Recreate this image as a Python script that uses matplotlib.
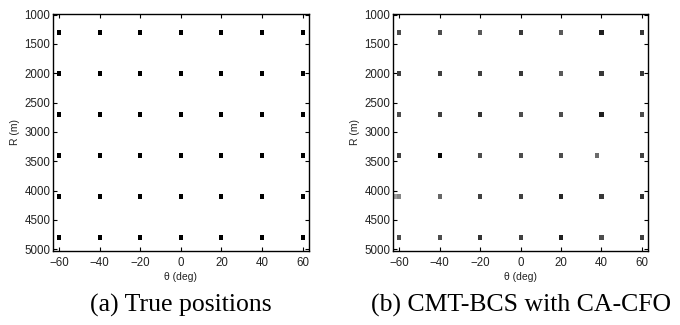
import numpy as np
import matplotlib
matplotlib.use('Agg')
import matplotlib.pyplot as plt

# grid of target positions
theta_deg = [-60, -40, -20, 0, 20, 40, 60]
range_m = [1300, 2000, 2700, 3400, 4100, 4800]

# estimated grey level (0 = black, 1 = white) of each recovered cell, rows follow range_m
est_grey = [
    [0.30, 0.30, 0.35, 0.22, 0.35, 0.12, 0.22],
    [0.25, 0.25, 0.25, 0.22, 0.35, 0.22, 0.22],
    [0.30, 0.25, 0.20, 0.30, 0.30, 0.12, 0.30],
    [0.25, 0.02, 0.30, 0.30, 0.30, 0.42, 0.25],
    [0.52, 0.40, 0.25, 0.25, 0.15, 0.22, 0.20],
    [0.30, 0.30, 0.20, 0.25, 0.12, 0.30, 0.25],
]
# recovered angle where it differs from the true one (row, col) -> theta
est_theta_shift = {(3, 5): 38}
# extra spurious cell next to a target
extra_theta = [-62]
extra_range = [4100]
extra_grey = [0.62]

xticks = [-60, -40, -20, 0, 20, 40, 60]
yticks = [1000, 1500, 2000, 2500, 3000, 3500, 4000, 4500, 5000]
captions = ['(a) True positions', '(b) CMT-BCS with CA-CFO']

plt.rcParams['font.family'] = ['Liberation Sans', 'DejaVu Sans']

fig = plt.figure(figsize=(6.8, 3.25), dpi=100)
ax_a = fig.add_axes([0.078, 0.228, 0.376, 0.729])
ax_b = fig.add_axes([0.578, 0.228, 0.375, 0.729])

cell_w = 2.0
cell_h = 85


def draw_cells(ax, th, rr, greys):
    rr = np.asarray(rr, dtype=float)
    ax.bar(th, cell_h, bottom=rr - cell_h / 2, width=cell_w,
           color=[str(g) for g in greys], linewidth=0, antialiased=False, zorder=2)


# (a) true positions
th_all = [t for r in range_m for t in theta_deg]
r_all = [r for r in range_m for t in theta_deg]
draw_cells(ax_a, th_all, r_all, [0.0] * len(th_all))

# (b) estimate
th_b, r_b, g_b = [], [], []
for i, r in enumerate(range_m):
    for j, t in enumerate(theta_deg):
        th_b.append(est_theta_shift.get((i, j), t))
        r_b.append(r)
        g_b.append(est_grey[i][j])
th_b += extra_theta
r_b += extra_range
g_b += extra_grey
draw_cells(ax_b, th_b, r_b, g_b)

for ax, cap in zip([ax_a, ax_b], captions):
    ax.set_xlim(-63, 63)
    ax.set_ylim(5030, 988)
    ax.set_xticks(xticks)
    ax.set_xticklabels(['\u2212%d' % -v if v < 0 else str(v) for v in xticks])
    ax.set_yticks(yticks)
    ax.tick_params(direction='in', length=3, width=0.8, top=True, right=True,
                   labelsize=8.3, colors='black', labelcolor='#222222')
    ax.tick_params(axis='x', pad=4.5)
    ax.tick_params(axis='y', pad=2)
    for sp in ax.spines.values():
        sp.set_linewidth(1.0)
    ax.set_xlabel('\u03b8 (deg)', fontsize=7.5, labelpad=2, color='#222222')
    ax.set_ylabel('R (m)', fontsize=7.5, labelpad=3, color='#222222')
    ax.text(0.5, -0.257, cap, transform=ax.transAxes, ha='center', va='baseline',
            fontsize=18.5, family=['Liberation Serif', 'DejaVu Serif'])

fig.savefig('out.png', dpi=100)
